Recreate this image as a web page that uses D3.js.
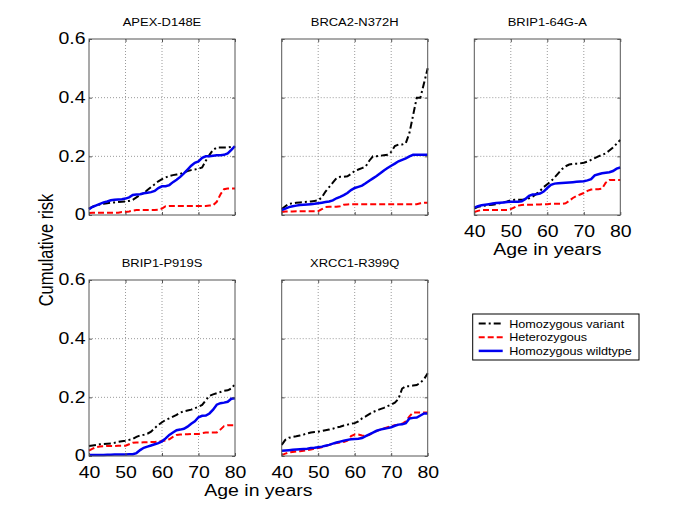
<!DOCTYPE html>
<head>
    <title>Cumulative risk by genotype</title>
    <meta charset="utf-8">
    <script src="https://d3js.org/d3.v7.min.js"></script>
</head>

<body>
    <svg class="chart" width="685" height="513"></svg>
</body>

<script>

// age grid (years) shared by every curve
var ages = [40,41,42,43,44,45,46,47,48,49,50,51,52,53,54,55,56,57,58,59,60,
            61,62,63,64,65,66,67,68,69,70,71,72,73,74,75,76,77,78,79,80];

var titles = ["APEX-D148E", "BRCA2-N372H", "BRIP1-64G-A", "BRIP1-P919S", "XRCC1-R399Q"];
var seriesNames = ["Homozygous variant", "Heterozygous", "Homozygous wildtype"];
var xTicks = [40, 50, 60, 70, 80];
var yTicks = [0, 0.2, 0.4, 0.6];

// APEX-D148E
var apexVariant = [.022,.028,.033,.036,.038,.040,.042,.043,.044,.045,.046,.048,.052,.060,.068,.075,.085,.095,.105,.115,.122,
                   .128,.133,.136,.138,.140,.145,.150,.153,.155,.158,.162,.185,.205,.222,.230,.230,.230,.230,.232,.232];
var apexHetero  = [.007,.008,.008,.008,.008,.008,.008,.008,.008,.010,.010,.012,.015,.017,.017,.017,.017,.017,.017,.018,.022,
                   .030,.031,.031,.031,.031,.031,.031,.031,.031,.031,.031,.031,.032,.033,.045,.070,.088,.090,.090,.090];
var apexWild    = [.020,.028,.033,.038,.043,.046,.050,.052,.053,.054,.056,.060,.068,.070,.071,.074,.076,.078,.082,.092,.098,
                   .098,.102,.112,.120,.130,.142,.155,.168,.178,.183,.195,.200,.200,.202,.204,.204,.205,.210,.222,.235];

// BRCA2-N372H
var brcaVariant = [.020,.030,.038,.040,.042,.043,.044,.045,.046,.048,.050,.060,.080,.095,.110,.125,.130,.130,.132,.140,.150,
                   .155,.160,.165,.185,.200,.200,.202,.204,.205,.215,.235,.240,.240,.245,.280,.340,.400,.400,.450,.500];
var brcaHetero  = [.010,.012,.012,.012,.013,.013,.013,.013,.013,.013,.013,.020,.027,.028,.028,.028,.030,.035,.036,.037,.037,
                   .037,.037,.037,.037,.037,.037,.037,.037,.037,.037,.037,.037,.037,.037,.037,.037,.037,.040,.042,.042];
var brcaWild    = [.017,.022,.027,.030,.032,.034,.035,.036,.037,.038,.040,.042,.044,.046,.050,.057,.062,.068,.075,.085,.092,
                   .096,.100,.108,.117,.125,.133,.142,.152,.160,.168,.175,.183,.188,.193,.200,.205,.205,.205,.205,.205];

// BRIP1-64G-A
var brip64Variant = [.022,.028,.030,.032,.034,.035,.037,.040,.043,.046,.050,.052,.052,.052,.053,.057,.063,.072,.082,.095,.105,
                     .115,.128,.142,.156,.166,.172,.174,.175,.176,.178,.182,.188,.194,.200,.205,.210,.220,.230,.243,.256];
var brip64Hetero  = [.010,.014,.017,.017,.017,.017,.017,.017,.017,.017,.020,.026,.032,.034,.035,.035,.035,.036,.036,.037,.037,
                     .038,.038,.038,.038,.040,.048,.058,.065,.070,.075,.082,.087,.088,.088,.090,.110,.119,.119,.119,.119];
var brip64Wild    = [.025,.030,.033,.035,.037,.039,.041,.042,.043,.044,.045,.045,.045,.047,.055,.065,.070,.071,.073,.080,.092,
                     .103,.107,.108,.109,.110,.111,.112,.113,.114,.115,.118,.122,.135,.139,.142,.144,.146,.150,.158,.162];

// BRIP1-P919S
var bripPVariant = [.034,.036,.038,.040,.041,.042,.043,.045,.048,.050,.052,.055,.058,.065,.070,.072,.076,.083,.095,.106,.115,
                    .123,.128,.134,.140,.148,.152,.155,.158,.163,.168,.174,.190,.205,.210,.214,.218,.222,.224,.230,.245];
var bripPHetero  = [.018,.025,.030,.032,.033,.034,.034,.034,.035,.035,.035,.040,.045,.046,.046,.047,.047,.048,.048,.049,.051,
                    .053,.057,.065,.072,.073,.074,.074,.075,.075,.075,.078,.080,.080,.080,.080,.090,.102,.105,.105,.105];
var bripPWild    = [.003,.003,.003,.003,.003,.004,.004,.005,.005,.005,.005,.006,.006,.010,.020,.028,.032,.036,.040,.044,.050,
                    .060,.072,.080,.088,.090,.093,.100,.110,.118,.132,.137,.138,.145,.158,.175,.180,.182,.185,.195,.197];

// XRCC1-R399Q
var xrccVariant = [.038,.055,.062,.065,.067,.070,.073,.077,.080,.082,.083,.085,.088,.090,.093,.097,.100,.104,.107,.110,.112,
                   .118,.128,.135,.143,.150,.155,.160,.164,.170,.175,.182,.195,.230,.238,.238,.240,.242,.250,.262,.282];
var xrccHetero  = [.003,.008,.012,.014,.015,.016,.018,.020,.022,.025,.027,.030,.034,.038,.041,.044,.046,.048,.052,.068,.073,
                   .073,.070,.068,.072,.080,.085,.090,.094,.098,.102,.105,.107,.110,.118,.135,.148,.148,.148,.148,.148];
var xrccWild    = [.018,.019,.020,.021,.022,.023,.024,.025,.027,.028,.030,.032,.035,.038,.042,.046,.049,.052,.055,.057,.058,
                   .059,.061,.068,.074,.080,.086,.090,.093,.095,.098,.103,.107,.108,.112,.128,.130,.131,.138,.145,.145];

var panelValues = [
    [apexVariant, apexHetero, apexWild],
    [brcaVariant, brcaHetero, brcaWild],
    [brip64Variant, brip64Hetero, brip64Wild],
    [bripPVariant, bripPHetero, bripPWild],
    [xrccVariant, xrccHetero, xrccWild]
];

var lefts = [89, 281.7, 474.3],
    tops = [39, 280],
    W = 146,
    H = 176,
    stretch = 1.18;   // the figure is a bit wider than tall, text too

var styles = [
    {color: "#000", width: 2, dash: "7,3,2,3"},
    {color: "#f00", width: 2, dash: "6,3"},
    {color: "#0000f0", width: 2.5, dash: null}
];

var x = d3.scaleLinear().domain([40, 80]).range([0, W]);
var y = d3.scaleLinear().domain([0, 0.6]).range([H, 0]);

var line = d3.line()
    .x(function(d, i) { return x(ages[i]); })
    .y(function(d) { return y(d); });

var chart = d3.select(".chart").style("background-color", "#fff");

panelValues.forEach(function(vals, p) {
    var col = p % 3, row = Math.floor(p / 3);
    var showX = (p >= 2), showY = (col == 0);

    var g = chart.append("g")
        .attr("transform", "translate(" + lefts[col] + "," + tops[row] + ")");

    // dotted grid
    g.selectAll("line.gx").data([50, 60, 70]).enter().append("line")
        .attr("x1", function(d) { return x(d); }).attr("x2", function(d) { return x(d); })
        .attr("y1", 0).attr("y2", H)
        .style("stroke", "#9a9a9a").style("stroke-dasharray", "1,2").style("stroke-width", 1);
    g.selectAll("line.gy").data([0.2, 0.4]).enter().append("line")
        .attr("x1", 0).attr("x2", W)
        .attr("y1", function(d) { return y(d); }).attr("y2", function(d) { return y(d); })
        .style("stroke", "#9a9a9a").style("stroke-dasharray", "1,2").style("stroke-width", 1);

    // curves
    vals.forEach(function(v, s) {
        g.append("path")
            .datum(v)
            .attr("d", line)
            .style("fill", "none")
            .style("stroke", styles[s].color)
            .style("stroke-width", styles[s].width)
            .style("stroke-dasharray", styles[s].dash);
    });

    // axes with inward ticks
    var xAxis = d3.axisBottom(x).tickValues(xTicks).tickSize(-3).tickPadding(10)
        .tickFormat(showX ? d3.format("d") : "");
    var yAxis = d3.axisLeft(y).tickValues(yTicks).tickSize(-3).tickPadding(3)
        .tickFormat(showY ? function(d) { return d == 0 ? "0" : d3.format(".1f")(d); } : "");

    var ax = g.append("g").attr("transform", "translate(0," + H + ")").call(xAxis);
    var ay = g.append("g").call(yAxis);
    g.append("g").call(d3.axisTop(x).tickValues(xTicks).tickSize(-3).tickFormat(""));
    g.append("g").attr("transform", "translate(" + W + ",0)")
        .call(d3.axisRight(y).tickValues(yTicks).tickSize(-3).tickFormat(""));

    g.selectAll(".domain").remove();
    g.selectAll(".tick line").style("stroke", "#555");
    [ax, ay].forEach(function(a) {
        a.selectAll("text")
            .style("font-family", "Arial, 'Liberation Sans', sans-serif")
            .style("font-size", "16.5px")
            .style("fill", "#000")
            .attr("transform", "scale(" + stretch + ",1)");
    });
    ay.selectAll("text").attr("dy", "0.3em");

    // box
    g.append("rect")
        .attr("width", W).attr("height", H)
        .style("fill", "none").style("stroke", "#555").style("stroke-width", 1);

    // title
    g.append("text")
        .attr("transform", "translate(" + (W / 2) + ",-13) scale(" + stretch + ",1)")
        .attr("text-anchor", "middle")
        .attr("class", "lbl")
        .style("font-size", "11px")
        .text(titles[p]);

    if (p == 2 || p == 3) {
        var cx = (p == 2) ? W / 2 : (lefts[0] + lefts[1] + W) / 2 - lefts[0];
        g.append("text")
            .attr("transform", "translate(" + cx + "," + (H + 40) + ") scale(" + stretch + ",1)")
            .attr("text-anchor", "middle")
            .attr("class", "lbl")
            .style("font-size", "16.5px")
            .text("Age in years");
    }
});

// y axis label
chart.append("text")
    .attr("transform", "translate(53,250) rotate(-90) scale(1," + stretch + ")")
    .attr("text-anchor", "middle")
    .attr("class", "lbl")
    .style("font-size", "16.5px")
    .text("Cumulative risk");

// legend
var legend = chart.append("g").attr("transform", "translate(472.7,314)");
legend.append("rect")
    .attr("width", 166.3).attr("height", 46)
    .style("fill", "#fff").style("stroke", "#000").style("stroke-width", 1);
var item = legend.selectAll("g.item").data(seriesNames).enter().append("g")
    .attr("transform", function(d, i) { return "translate(0," + (9.5 + i * 13.7) + ")"; });
item.append("line")
    .attr("x1", 6).attr("x2", 30)
    .style("stroke", function(d, i) { return styles[i].color; })
    .style("stroke-width", function(d, i) { return styles[i].width; })
    .style("stroke-dasharray", function(d, i) { return styles[i].dash; });
item.append("text")
    .attr("transform", "translate(36.5,4) scale(" + stretch + ",1)")
    .attr("class", "lbl")
    .style("font-size", "10.7px")
    .text(function(d) { return d; });

</script>

<style>
    body { margin: 0; }
    .lbl {
        font-family: Arial, "Liberation Sans", sans-serif;
        fill: black;
    }
</style>
